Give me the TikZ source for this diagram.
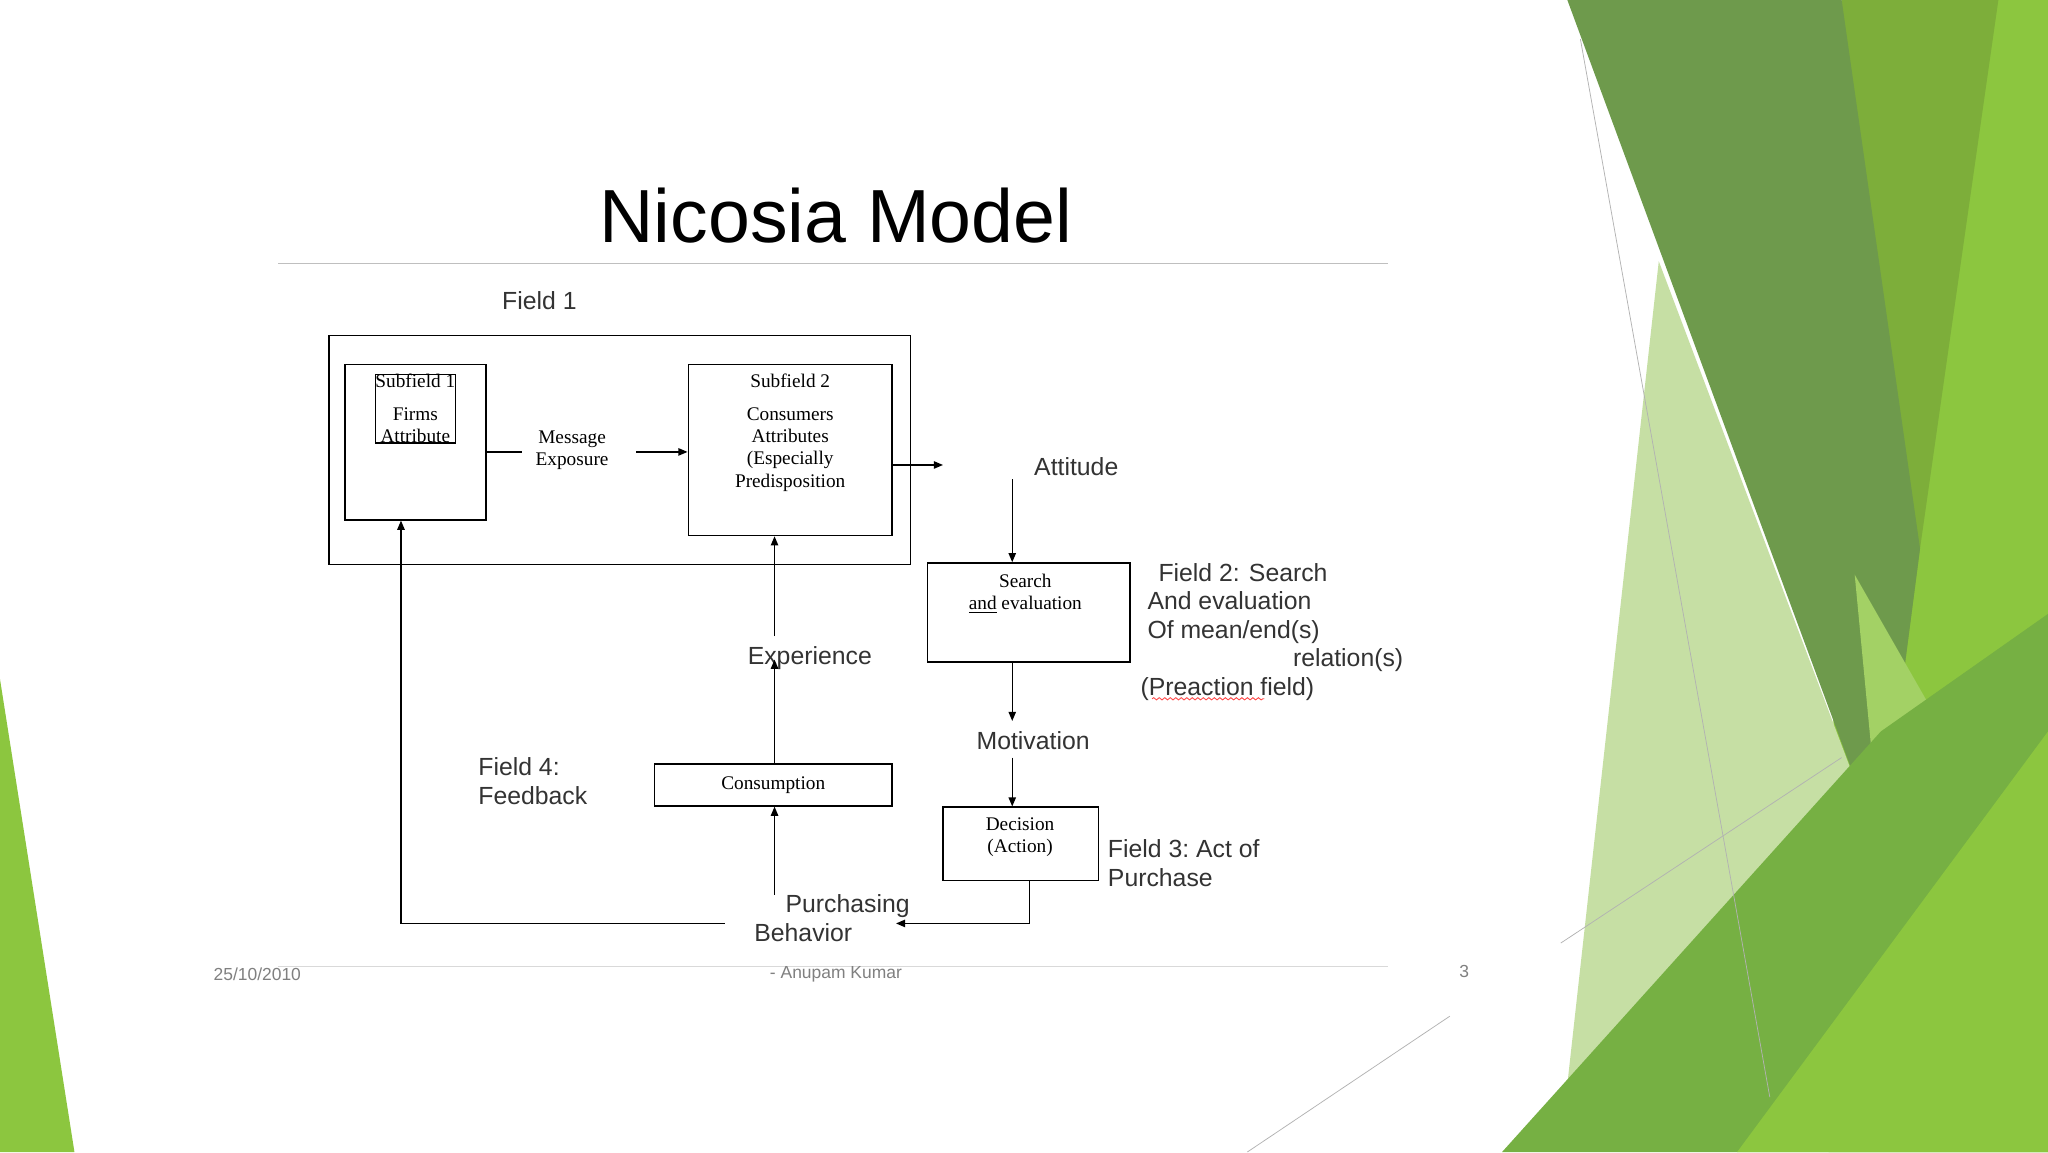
\documentclass[tikz,border=0pt]{standalone}
\usepackage{fontspec}
\setmainfont{Liberation Sans}
\newfontfamily\serifbox{Liberation Serif}
\usetikzlibrary{arrows.meta,decorations.pathmorphing}
\definecolor{gA}{HTML}{6E9A4C}
\definecolor{gB}{HTML}{7DAE3A}
\definecolor{gC}{HTML}{8CC63F}
\definecolor{gD}{HTML}{C6DFA4}
\definecolor{gE}{HTML}{76B043}
\definecolor{txt}{HTML}{333333}
\tikzset{
 bx/.style={draw,line width=0.8pt,font=\serifbox\fontsize{10.5}{12}\selectfont,align=center,inner sep=0pt},
 lbl/.style={font=\fontsize{13.5}{15.5}\selectfont,text=txt,inner sep=0pt},
 arr/.style={-{Triangle[length=5pt,width=4pt]},line width=0.8pt},
 ln/.style={line width=0.8pt},
 foot/.style={font=\fontsize{9.5}{11}\selectfont,text=gray,inner sep=0pt}
}
\begin{document}
\begin{tikzpicture}[x=0.25mm,y=-0.25mm]
\useasboundingbox (0,0) rectangle (1568,882);
\fill[white] (0,0) rectangle (1568,882);
% decorations
\fill[gC] (0,520) -- (57,882) -- (0,882) -- cycle;
\fill[gC] (1410,0) -- (1568,0) -- (1568,882) -- (1400,882) -- cycle;
\fill[gB] (1410,0) -- (1530,0) -- (1470,420) -- (1440,650) -- cycle;
\fill[gA] (1200,0) -- (1410,0) -- (1470,420) -- (1440,650) -- cycle;
\fill[gD] (1270,200) -- (1440,650) -- (1200,830) -- cycle;
\fill[gC!80!white] (1500,580) -- (1420,440) -- (1440,650) -- cycle;
\fill[gE] (1150,882) -- (1440,560) -- (1568,470) -- (1568,882) -- cycle;
\fill[gC] (1330,882) -- (1568,560) -- (1568,882) -- cycle;
\draw[gray!60,line width=0.4pt] (1210,30) -- (1355,840);
\draw[gray!60,line width=0.4pt] (1195,722) -- (1410,580);
\draw[gray!60,line width=0.4pt] (955,882) -- (1110,778);
% title
\node[font=\fontsize{41}{45}\selectfont,inner sep=0pt] (title) at (640,165) {Nicosia Model};
\draw[gray!50,line width=0.6pt] (213,202) -- (1063,202);
\draw[gray!30,line width=0.6pt] (213,740) -- (1063,740);
% field 1
\node[lbl] (f1) at (413,230) {Field 1};
\draw[ln] (252,257) rectangle (697,432);
\node[bx,minimum width=108*0.25mm,minimum height=119*0.25mm] (s1) at (318,338.5) {};
\node[bx,anchor=north,inner sep=0pt] at (318,286) {Subfield 1\\[6pt]Firms\\Attribute};
\node[bx,minimum width=156*0.25mm,minimum height=131*0.25mm] (s2) at (605,344.5) {};
\node[bx,anchor=north,draw=none] at (605,286) {Subfield 2\\[6pt]Consumers\\Attributes\\(Especially\\Predisposition};
\node[bx,draw=none] (me) at (438,345) {Message\\Exposure};
\draw[ln] (s1.east|-0,346) -- (400,346);
\coordinate (meo) at (487,346);
\draw[arr] (meo) -- (s2.west|-0,346);
\coordinate (att1) at (722,356);
\draw[arr] (s2.east|-0,356) -- (att1);
\node[lbl] (att) at (824,357) {Attitude};
\node[bx,minimum width=155*0.25mm,minimum height=76*0.25mm] (se) at (787.5,469) {};
\node[bx,draw=none,anchor=north] at (785,439) {Search\\\underline{and} evaluation};
\draw[arr] (775,367) -- (se.north-|775,0);
\node[lbl,anchor=north west,align=left] at (873,431) {\ \ \,Field 2: Search\\ \ And evaluation\\ \ Of mean/end(s)\\ \hspace*{83pt}relation(s)\\(Preaction field)};
\draw[red!70,line width=0.5pt,decorate,decoration={snake,amplitude=0.6pt,segment length=3pt}] (882,535) -- (968,535);
\node[lbl] (mot) at (791,567) {Motivation};
\draw[arr] (se.south-|775,0) -- (775,552);
\node[bx,minimum width=119*0.25mm,minimum height=56*0.25mm] (dec) at (781.5,646) {};
\node[bx,draw=none] at (781,641) {Decision\\(Action)};
\draw[arr] (775,580) -- (dec.north-|775,0);
\node[lbl,anchor=west,align=left] at (848,661) {Field 3:\ Act of\\Purchase};
\node[lbl,align=left] (pb) at (637,703) {\hspace*{17pt}Purchasing\\Behavior};
\coordinate (pbr) at (686,707);
\draw[arr] (dec.south-|788,0) -- (788,707) -- (pbr);
\draw[arr] (555,707) -- (307,707) -- (s1.south-|307,0);
\node[bx,minimum width=182*0.25mm,minimum height=32*0.25mm] (con) at (592,601) {Consumption};
\draw[arr] (593,685) -- (con.south-|593,0);
\node[lbl] (exp) at (620,504) {Experience};
\draw[arr] (con.north-|593,0) -- (593,505);
\draw[arr] (593,487) -- (s2.south-|593,0);
\node[lbl,anchor=west,align=left] at (366,598) {Field 4:\\Feedback};
% footer
\node[foot] at (197,746) {25/10/2010};
\node[foot] at (640,746) {- Anupam Kumar};
\node[foot] at (1121,744) {3};
\end{tikzpicture}
\end{document}
